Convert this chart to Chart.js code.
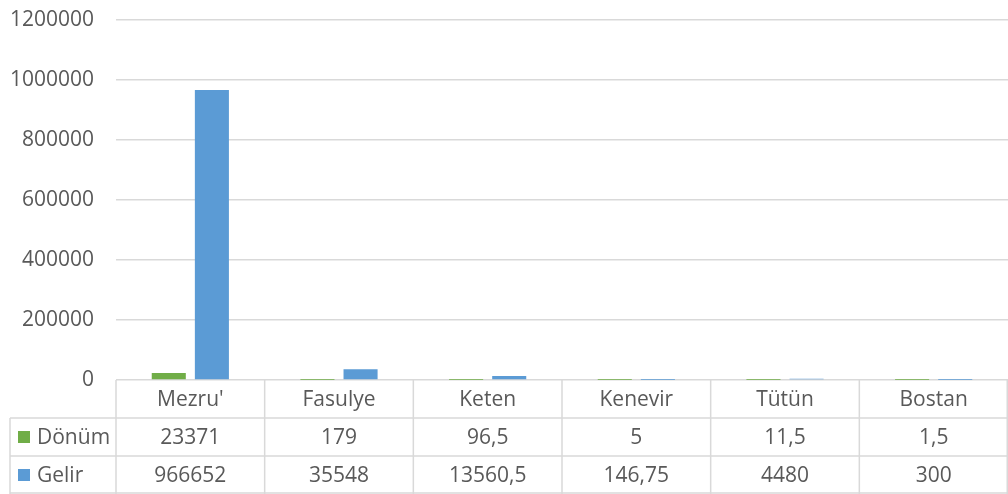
<!DOCTYPE html>
<html><head><meta charset="utf-8">
<script src="https://cdn.jsdelivr.net/npm/chart.js@4.4.1/dist/chart.umd.min.js"></script>
<style>html,body{margin:0;padding:0;background:#fff}#wrap{width:1008px;height:494px}</style>
</head><body><div id="wrap"><canvas id="c" width="1008" height="494"></canvas></div>
<script>
const categories = ["Mezru'", "Fasulye", "Keten", "Kenevir", "Tütün", "Bostan"];
const donum = [23371, 179, 96.5, 5, 11.5, 1.5];
const gelir = [966652, 35548, 13560.5, 146.75, 4480, 300];
const seriesNames = ["Dönüm", "Gelir"];
const colors = ["#70ad47", "#5b9bd5"];
const yTicks = [0, 200000, 400000, 600000, 800000, 1000000, 1200000];

const FONT = "'Open Sans', 'Noto Sans', sans-serif";
const TXT = "#595959";
const GRID = "#d9d9d9";
const FS = 21;
const fmt = v => String(v).replace('.', ',');

const tablePlugin = {
  id: 'dataTable',
  afterDraw(chart) {
    const ctx = chart.ctx, a = chart.chartArea, xs = chart.scales.x;
    const L = a.left, R = a.right, B = a.bottom;
    const rowH = 38, leftX = 10;
    const half = (xs.getPixelForValue(1) - xs.getPixelForValue(0)) / 2;
    ctx.save();
    ctx.strokeStyle = GRID; ctx.lineWidth = 1.5;
    ctx.beginPath();
    ctx.moveTo(leftX, B + rowH); ctx.lineTo(R, B + rowH);
    ctx.moveTo(leftX, B + 2 * rowH); ctx.lineTo(R, B + 2 * rowH);
    ctx.moveTo(leftX, B + 3 * rowH - 1); ctx.lineTo(R, B + 3 * rowH - 1);
    ctx.moveTo(leftX, B + rowH); ctx.lineTo(leftX, B + 3 * rowH);
    for (let i = 0; i <= categories.length; i++) {
      const x = i < categories.length ? xs.getPixelForValue(i) - half : xs.getPixelForValue(categories.length - 1) + half - 0.75;
      ctx.moveTo(x, B); ctx.lineTo(x, B + 3 * rowH);
    }
    ctx.stroke();
    ctx.fillStyle = TXT;
    ctx.font = FS + "px " + FONT;
    ctx.textAlign = 'center'; ctx.textBaseline = 'middle';
    const rows = [donum, gelir];
    categories.forEach((c, i) => {
      const x = xs.getPixelForValue(i);
      ctx.fillText(c, x, B + rowH / 2 + 1);
      rows.forEach((r, j) => ctx.fillText(fmt(r[i]), x, B + rowH * (j + 1) + rowH / 2 + 1));
    });
    ctx.textAlign = 'left';
    seriesNames.forEach((n, j) => {
      const cy = B + rowH * (j + 1) + rowH / 2;
      ctx.fillStyle = colors[j];
      ctx.fillRect(18, cy - 6, 12, 12);
      ctx.fillStyle = TXT;
      ctx.fillText(n, 37, cy + 1);
    });
    ctx.restore();
  }
};

new Chart(document.getElementById('c'), {
  type: 'bar',
  data: {
    labels: categories,
    datasets: [
      { label: seriesNames[0], data: donum, backgroundColor: colors[0], categoryPercentage: 0.58, barPercentage: 0.79 },
      { label: seriesNames[1], data: gelir, backgroundColor: colors[1], categoryPercentage: 0.58, barPercentage: 0.79 }
    ]
  },
  options: {
    responsive: false,
    animation: false,
    layout: { padding: { top: 0, bottom: 114, right: 0, left: 0 } },
    plugins: { legend: { display: false }, tooltip: { enabled: false } },
    scales: {
      x: { display: false },
      y: {
        min: 0, max: 1200000,
        afterFit(s) { s.width = 116; s.paddingTop = 20; s.paddingBottom = 0; },
        afterBuildTicks(s) { s.ticks = yTicks.map(v => ({ value: v })); },
        border: { display: false },
        grid: { color: GRID, lineWidth: 1.5, drawTicks: false },
        ticks: { color: TXT, font: { family: FONT, size: FS }, padding: 22, callback: v => String(v) }
      }
    }
  },
  plugins: [tablePlugin]
});
</script></body></html>
